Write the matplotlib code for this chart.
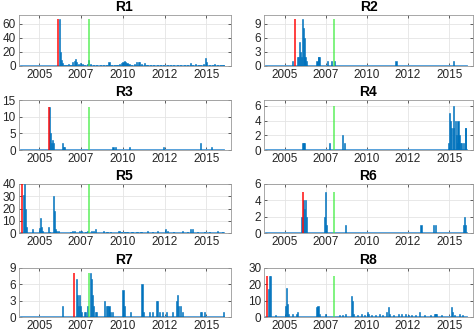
import numpy as np
import matplotlib.pyplot as plt

plt.rcParams['font.family'] = ['Liberation Sans', 'DejaVu Sans']

# =============================================================================
# Data (decimal year, count)
# =============================================================================
R1_t = [2006.19, 2006.25, 2006.32, 2006.38, 2006.48, 2006.64, 2006.76, 2006.88, 2007.00,
        2007.08, 2007.16, 2007.24, 2007.36, 2007.48, 2007.60, 2007.72, 2007.88, 2007.96,
        2008.08, 2008.24, 2008.44, 2008.64, 2008.84, 2009.00, 2009.17, 2009.33, 2009.49,
        2009.65, 2009.81, 2009.93, 2010.01, 2010.09, 2010.17, 2010.25, 2010.37, 2010.53,
        2010.69, 2010.81, 2010.93, 2011.01, 2011.13, 2011.29, 2011.45, 2011.66, 2011.86,
        2012.06, 2012.26, 2012.46, 2012.66, 2012.86, 2013.06, 2013.26, 2013.46, 2013.67,
        2013.87, 2014.03, 2014.19, 2014.35, 2014.51, 2014.67, 2014.83, 2014.95, 2015.03,
        2015.19, 2015.35, 2015.51, 2015.67, 2015.83, 2016.00]
R1_v = [66, 20, 8, 4, 2, 2, 3, 2, 6,
        7, 10, 5, 3, 4, 3, 2, 3, 8,
        3, 2, 1, 2, 1, 2, 5, 2, 1,
        2, 3, 4, 6, 7, 6, 4, 3, 2,
        3, 5, 6, 5, 3, 4, 2, 2, 1,
        2, 1, 2, 1, 1, 2, 1, 2, 1,
        2, 4, 2, 3, 1, 2, 3, 12, 5,
        2, 2, 3, 1, 2, 2]

R2_t = [2005.46, 2005.80, 2005.86, 2005.90, 2005.96, 2006.02, 2006.10, 2006.16, 2006.20,
        2006.24, 2006.31, 2006.97, 2007.05, 2007.09, 2007.61, 2007.87, 2008.05, 2011.77,
        2015.24]
R2_v = [1, 2, 2, 5, 3, 2, 10, 8, 6,
        2, 1, 1, 2, 2, 1, 1, 1, 1,
        1]

R3_t = [2005.59, 2005.65, 2005.71, 2005.77, 2005.83, 2006.36, 2006.42, 2006.48, 2009.41,
        2009.55, 2010.41, 2012.46, 2014.63, 2015.33]
R3_v = [13, 5, 2, 3, 2, 2, 1, 1, 1,
        1, 1, 1, 2, 1]

R4_t = [2006.12, 2006.18, 2007.71, 2008.51, 2008.65, 2014.96, 2015.04, 2015.10, 2015.16,
        2015.24, 2015.29, 2015.36, 2015.42, 2015.48, 2015.54, 2015.60, 2015.67, 2015.76,
        2015.86, 2015.98, 2016.02]
R4_v = [1, 1, 1, 2, 1, 1, 5, 4, 3,
        3, 6, 4, 2, 1, 4, 2, 1, 1,
        1, 3, 3]

R5_t = [2004.07, 2004.13, 2004.17, 2004.23, 2004.59, 2004.99, 2005.07, 2005.13, 2005.19,
        2005.53, 2005.63, 2005.83, 2005.89, 2005.95, 2006.03, 2006.15, 2006.88, 2007.00,
        2007.12, 2007.40, 2007.52, 2007.76, 2007.88, 2008.12, 2008.24, 2008.36, 2008.85,
        2009.05, 2009.25, 2009.77, 2009.93, 2010.09, 2010.25, 2010.55, 2010.85, 2011.09,
        2011.46, 2011.76, 2012.06, 2012.54, 2012.66, 2013.06, 2013.59, 2013.87, 2014.07,
        2014.17, 2014.47, 2014.87, 2015.17, 2015.67, 2015.97]
R5_v = [31, 40, 20, 5, 3, 4, 12, 5, 2,
        5, 1, 30, 18, 3, 2, 2, 1, 2,
        2, 2, 2, 1, 2, 2, 2, 3, 2,
        1, 1, 2, 1, 1, 1, 1, 1, 1,
        2, 1, 2, 3, 2, 1, 2, 1, 3,
        3, 1, 1, 1, 2, 1]

R6_t = [2006.04, 2006.16, 2006.20, 2006.27, 2006.33, 2007.41, 2007.47, 2007.55, 2008.71,
        2013.29, 2014.06, 2014.16, 2015.86, 2015.92, 2015.98]
R6_v = [2, 4, 3, 4, 2, 2, 5, 1, 1,
        1, 1, 1, 1, 2, 1]

R7_t = [2006.38, 2007.20, 2007.26, 2007.32, 2007.40, 2007.46, 2007.54, 2007.68, 2007.76,
        2007.88, 2008.08, 2008.14, 2008.20, 2008.26, 2008.34, 2008.44, 2008.89, 2009.01,
        2009.09, 2009.17, 2009.25, 2009.37, 2010.01, 2010.09, 2010.45, 2011.15, 2011.26,
        2011.62, 2011.76, 2012.00, 2012.10, 2012.22, 2012.36, 2012.62, 2012.96, 2013.20,
        2013.26, 2013.36, 2013.46, 2013.56, 2014.63, 2014.71, 2014.87, 2016.03]
R7_v = [2, 7, 4, 2, 4, 2, 1, 1, 1,
        2, 8, 7, 4, 2, 1, 1, 3, 2,
        2, 2, 1, 1, 5, 2, 1, 6, 1,
        1, 1, 3, 3, 1, 1, 1, 1, 3,
        4, 2, 2, 1, 1, 1, 1, 1]

R8_t = [2004.02, 2004.10, 2004.16, 2004.46, 2005.04, 2005.10, 2005.16, 2005.22, 2005.50,
        2005.70, 2005.80, 2006.97, 2007.03, 2007.11, 2007.51, 2008.35, 2008.51, 2008.71,
        2009.08, 2009.12, 2009.18, 2009.44, 2009.68, 2009.84, 2010.06, 2010.12, 2010.31,
        2010.51, 2010.76, 2010.96, 2011.22, 2011.29, 2011.37, 2011.63, 2011.93, 2012.13,
        2012.33, 2012.53, 2012.73, 2012.93, 2013.19, 2013.53, 2013.84, 2014.14, 2014.20,
        2014.54, 2015.14, 2015.20, 2015.34, 2015.64, 2015.84]
R8_v = [17, 25, 25, 1, 7, 18, 8, 2, 2,
        2, 3, 6, 7, 2, 2, 1, 1, 2,
        13, 10, 2, 1, 2, 1, 3, 2, 1,
        1, 2, 1, 3, 6, 2, 1, 2, 2,
        2, 1, 1, 1, 3, 1, 1, 2, 2,
        1, 6, 3, 1, 2, 1]

# event dates (red = per region, green = common)
RED_DATES = [2006.09, 2005.66, 2005.57, None, 2003.97, 2006.10, 2007.08, 2003.96]
GREEN_DATE = 2007.98

TITLES = ['R1', 'R2', 'R3', 'R4', 'R5', 'R6', 'R7', 'R8']
SERIES = [(R1_t, R1_v), (R2_t, R2_v), (R3_t, R3_v), (R4_t, R4_v),
          (R5_t, R5_v), (R6_t, R6_v), (R7_t, R7_v), (R8_t, R8_v)]
YLIMS = [72, 10.8, 15, 6.8, 40, 6, 9, 30]
YSTEPS = [20, 3, 5, 2, 10, 2, 3, 10]

DATA_START, DATA_END = 2003.9, 2016.08
XTICKS = [2005, 2007.5, 2010, 2012.5, 2015]
XTICKLABELS = ['2005', '2007', '2010', '2012', '2015']

# =============================================================================
# Layout (pixels of the 475x332 reference)
# =============================================================================
W, H = 475, 332
COLS = [(18.5, 212), (264, 209)]
ROWS = [(15, 66), (100, 150), (184, 233), (268, 317)]

BLUE = '#0072BD'
AX_GREY = '#262626'

fig = plt.figure(figsize=(W / 100, H / 100), dpi=100)

for i, (t, v) in enumerate(SERIES):
    r, c = divmod(i, 2)
    left, width = COLS[c]
    top, bot = ROWS[r]
    ax = fig.add_axes([left / W, 1 - bot / H, width / W, (bot - top) / H])

    ymax = max(v)
    ax.plot([DATA_START, DATA_END], [0, 0], color='#4a9ad8', lw=1.3, zorder=2)
    ax.bar(t, v, width=0.065, color=BLUE, edgecolor=BLUE, linewidth=0.4, zorder=3)
    if RED_DATES[i] is not None:
        ax.vlines(RED_DATES[i], 0, ymax, color='red', lw=1.4, alpha=0.75, zorder=4)
    ax.vlines(GREEN_DATE, 0, ymax, color='#44ee44', lw=1.2, alpha=0.8, zorder=4)

    ax.set_xlim(2003.75, 2016.45)
    ax.set_ylim(0, YLIMS[i])
    ax.set_yticks(np.arange(0, YLIMS[i] + 1e-6, YSTEPS[i]))
    ax.set_xticks(XTICKS)
    ax.set_xticklabels(XTICKLABELS)
    ax.set_title(TITLES[i], fontsize=10, fontweight='bold', pad=3)

    ax.grid(True, color='#e4e4e4', lw=0.6)
    ax.set_axisbelow(True)
    ax.tick_params(direction='in', length=2, width=0.5, labelsize=8.5,
                   colors=AX_GREY, pad=2, top=True, right=True)
    for s in ax.spines.values():
        s.set_color('#999999')
        s.set_linewidth(0.6)

fig.savefig('out.png', dpi=100)
